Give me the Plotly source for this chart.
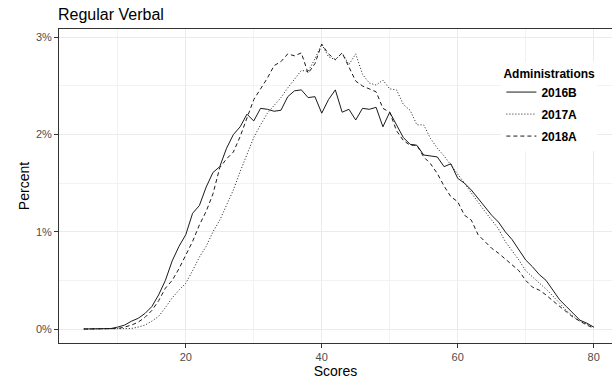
import plotly.graph_objects as go

scores = list(range(5, 81))

# Percent values (as fractions), scores 5..80
admin_2016B = [0, 0, 0, 0, 0.00005, 0.0002, 0.0004, 0.0008, 0.0011, 0.0016,
               0.0023, 0.0035, 0.0050, 0.0070, 0.0085, 0.0097, 0.0119, 0.0127, 0.0146, 0.0161,
               0.0167, 0.0186, 0.0200, 0.0208, 0.0221, 0.0214, 0.0227, 0.0226, 0.0224, 0.0225,
               0.0239, 0.0245, 0.0246, 0.0238, 0.0239, 0.0222, 0.0236, 0.0246, 0.0223, 0.0226,
               0.0215, 0.0227, 0.0226, 0.0228, 0.0208, 0.0223, 0.0210, 0.0197, 0.0190, 0.0189,
               0.0179, 0.0178, 0.0177, 0.0167, 0.0170, 0.0155, 0.0150, 0.0143, 0.0134, 0.0126,
               0.0117, 0.0110, 0.0100, 0.0092, 0.0082, 0.0071, 0.0064, 0.0056, 0.0050, 0.0040,
               0.0030, 0.0023, 0.0016, 0.0009, 0.0006, 0.0002]

admin_2017A = [0, 0, 0, 0, 0, 0, 0, 0.00005, 0.0002, 0.0004,
               0.0008, 0.0013, 0.0022, 0.0032, 0.0040, 0.0047, 0.0060, 0.0074, 0.0085, 0.0100,
               0.0112, 0.0127, 0.0143, 0.0162, 0.0180, 0.0197, 0.0210, 0.0222, 0.0230, 0.0238,
               0.0248, 0.0257, 0.0266, 0.0265, 0.0278, 0.0293, 0.0280, 0.0277, 0.0284, 0.0272,
               0.0283, 0.0262, 0.0253, 0.0251, 0.0256, 0.0247, 0.0246, 0.0231, 0.0225, 0.0210,
               0.0210, 0.0196, 0.0186, 0.0178, 0.0169, 0.0159, 0.0150, 0.0140, 0.0130, 0.0121,
               0.0112, 0.0103, 0.0090, 0.0081, 0.0071, 0.0060, 0.0054, 0.0048, 0.0041, 0.0034,
               0.0026, 0.0019, 0.0013, 0.0008, 0.0005, 0.0002]

admin_2018A = [0, 0, 0, 0, 0, 0.00005, 0.0002, 0.0004, 0.0007, 0.0012,
               0.0019, 0.0029, 0.0042, 0.0050, 0.0062, 0.0076, 0.0090, 0.0107, 0.0121, 0.0139,
               0.0166, 0.0175, 0.0182, 0.0198, 0.0218, 0.0236, 0.0247, 0.0258, 0.0271, 0.0275,
               0.0283, 0.0281, 0.0284, 0.0263, 0.0273, 0.0293, 0.0283, 0.0277, 0.0284, 0.0270,
               0.0255, 0.0250, 0.0247, 0.0244, 0.0227, 0.0223, 0.0204, 0.0194, 0.0189, 0.0189,
               0.0177, 0.0170, 0.0160, 0.0147, 0.0136, 0.0131, 0.0117, 0.0112, 0.0097, 0.0090,
               0.0083, 0.0078, 0.0072, 0.0066, 0.0060, 0.0050, 0.0043, 0.0040, 0.0035, 0.0029,
               0.0023, 0.0017, 0.0012, 0.0008, 0.0004, 0.0001]

series = [("2016B", admin_2016B, "solid"),
          ("2017A", admin_2017A, "1px,2px"),
          ("2018A", admin_2018A, "4px,3px")]

x_ticks = [20, 40, 60, 80]
y_ticks = [0, 0.01, 0.02, 0.03]
y_labels = ["0%", "1%", "2%", "3%"]

fig = go.Figure()
for name, vals, dash in series:
    fig.add_trace(go.Scatter(x=scores, y=vals, mode="lines", name="<b>" + name + "</b>",
                             legendgroup=name,
                             line=dict(color="#1a1a1a", width=1, dash=dash)))

FONT = "Liberation Sans, Arial, sans-serif"
fig.update_layout(
    width=612, height=381,
    margin=dict(l=59, r=0, t=29, b=38),
    paper_bgcolor="white", plot_bgcolor="white",
    font=dict(family=FONT, color="#000000"),
    title=dict(text="Regular Verbal", x=58/612, xref="container", xanchor="left",
               y=1 - 14/381, yref="container", yanchor="middle",
               font=dict(size=16, color="#000000", family=FONT)),
    showlegend=True,
    legend=dict(
        x=0.80, y=0.895, xanchor="left", yanchor="top",
        bgcolor="white", borderwidth=0,
        title=dict(text="<b>Administrations</b>", font=dict(size=12, color="#000000")),
        font=dict(size=12, color="#000000"),
        itemwidth=30,
        tracegroupgap=3,
    ),
    xaxis=dict(
        range=[1.35, 82.7], tickvals=x_ticks, ticktext=[str(v) for v in x_ticks],
        showgrid=True, gridcolor="#ebebeb", gridwidth=1,
        minor=dict(tickvals=[10, 30, 50, 70], showgrid=True, gridcolor="#f2f2f2", gridwidth=0.6),
        showline=True, linecolor="#333333", linewidth=1, mirror=True,
        ticks="outside", ticklen=4, tickcolor="#333333",
        tickfont=dict(size=11, color="#4d4d4d"),
        zeroline=False,
        title=dict(text="Scores", font=dict(size=14, color="#000000"), standoff=2),
    ),
    yaxis=dict(
        range=[-0.00144, 0.03086], tickvals=y_ticks, ticktext=y_labels,
        showgrid=True, gridcolor="#ebebeb", gridwidth=1,
        minor=dict(tickvals=[0.005, 0.015, 0.025], showgrid=True, gridcolor="#f2f2f2", gridwidth=0.6),
        showline=True, linecolor="#333333", linewidth=1, mirror=False,
        ticks="outside", ticklen=4, tickcolor="#333333",
        tickfont=dict(size=11, color="#4d4d4d"),
        zeroline=False,
        title=dict(text="Percent", font=dict(size=14, color="#000000"), standoff=2),
    ),
)

fig.write_html("out.html")
